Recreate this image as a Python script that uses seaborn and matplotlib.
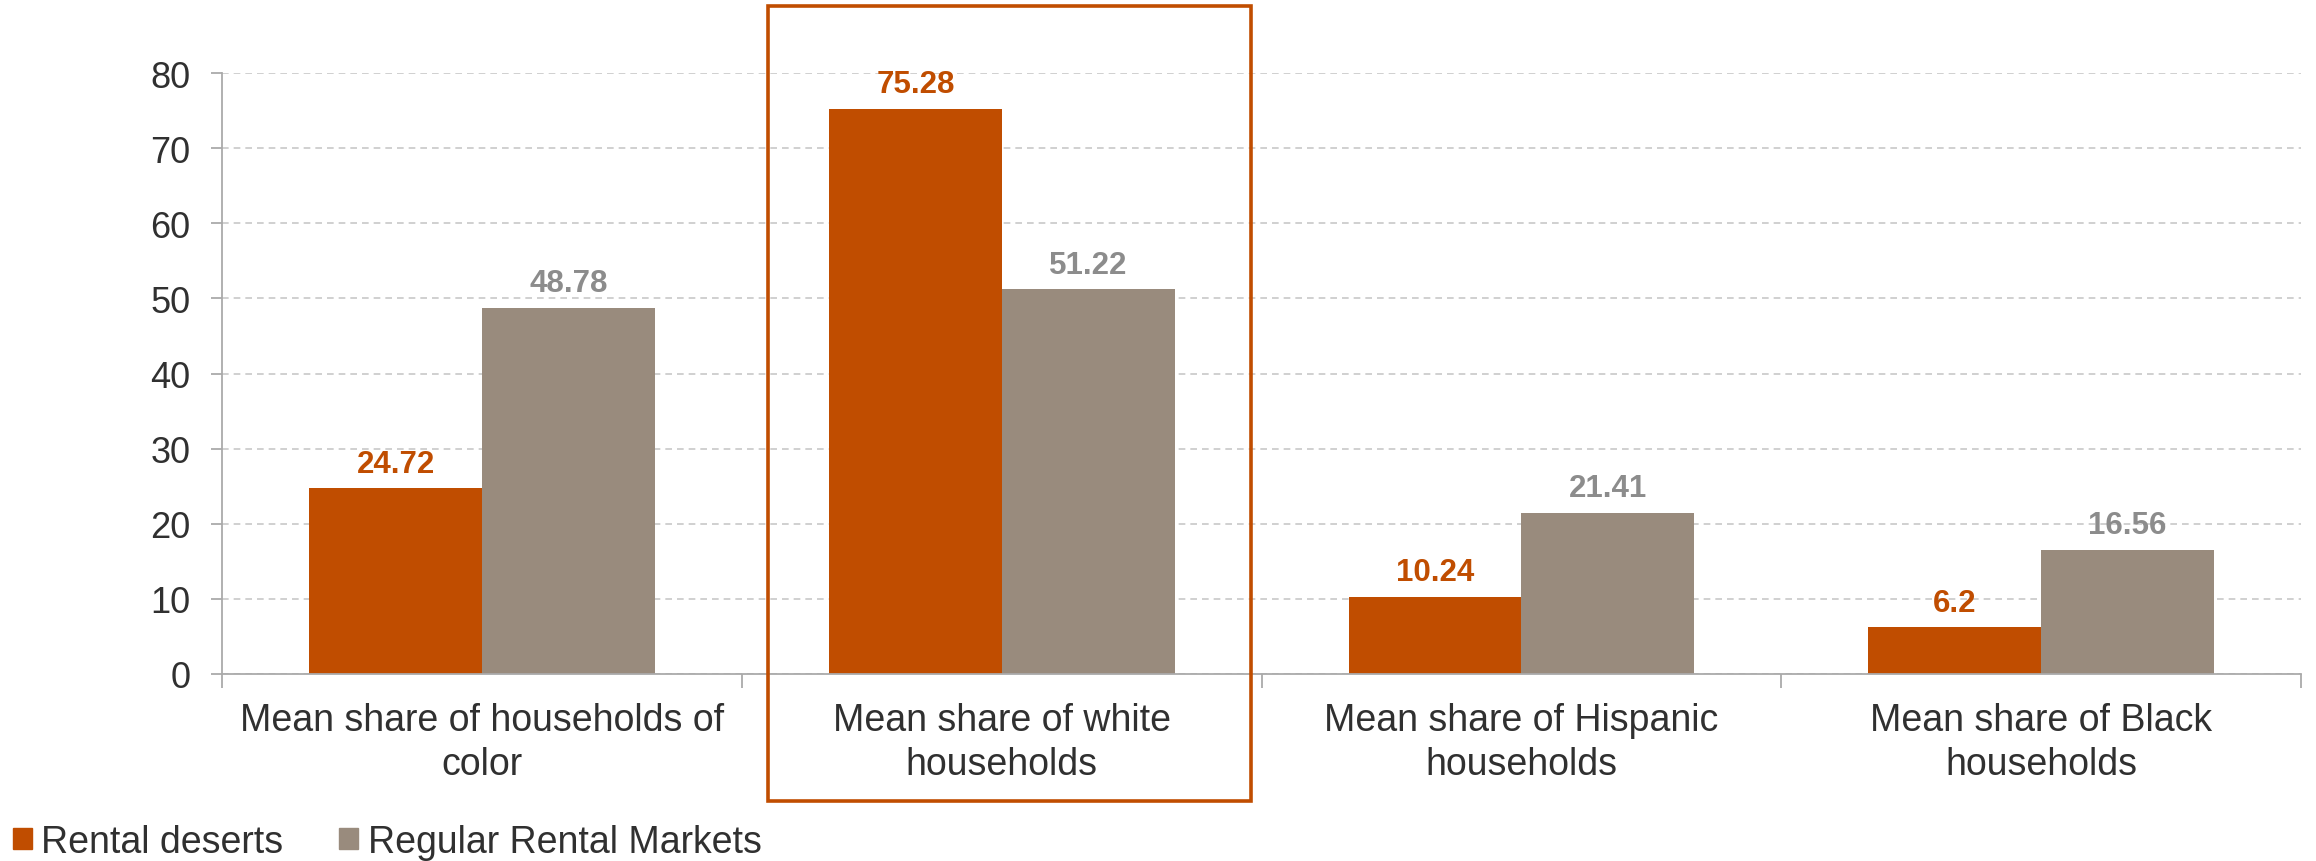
import matplotlib
matplotlib.use("Agg")
import matplotlib.pyplot as plt
import matplotlib.transforms as mtransforms
from matplotlib.patches import Rectangle
from matplotlib.ticker import FixedLocator
import seaborn as sns
import pandas as pd

categories = ["Mean share of households of\ncolor",
              "Mean share of white\nhouseholds",
              "Mean share of Hispanic\nhouseholds",
              "Mean share of Black\nhouseholds"]
series = ["Rental deserts", "Regular Rental Markets"]
rental_deserts = [24.72, 75.28, 10.24, 6.2]
regular_markets = [48.78, 51.22, 21.41, 16.56]
yticks = [0, 10, 20, 30, 40, 50, 60, 70, 80]

bar_colors = ["#C04D00", "#998B7D"]
label_colors = ["#C04D00", "#8C8C8C"]

df = pd.DataFrame({
    "Category": categories * 2,
    "Market": [series[0]] * 4 + [series[1]] * 4,
    "Value": rental_deserts + regular_markets,
})

sns.set_theme(style="white")
plt.rcParams["font.family"] = ["Liberation Sans", "DejaVu Sans"]

fig = plt.figure(figsize=(23.16, 8.62), dpi=100)
ax = fig.add_axes([0.096, 0.217, 0.8975, 0.697])

sns.barplot(data=df, x="Category", y="Value", hue="Market", order=categories,
            hue_order=series, palette=bar_colors, width=0.665, gap=0,
            saturation=1, linewidth=0, ax=ax, legend=False)

for cont, col in zip(ax.containers, label_colors):
    ax.bar_label(cont, fmt="%g", padding=7, color=col, fontweight="bold",
                 fontsize=22.5)

ax.set_ylim(0, 80)
ax.set_xlim(-0.5, 3.5)
ax.set_yticks(yticks)
ax.set_xlabel("")
ax.set_ylabel("")
ax.yaxis.grid(True, linestyle=(0, (4, 3)), color="#C8C8C8", linewidth=1.2)
ax.set_axisbelow(True)
for s in ["top", "right"]:
    ax.spines[s].set_visible(False)
for s in ["left", "bottom"]:
    ax.spines[s].set_color("#AAAAAA")
    ax.spines[s].set_linewidth(1.3)

ax.tick_params(axis="y", which="major", length=8, width=1.3, color="#AAAAAA",
               labelsize=26, labelcolor="#303030", pad=15, left=True)
ax.tick_params(axis="x", which="major", length=0, labelsize=27,
               labelcolor="#303030", pad=20)
ax.xaxis.set_minor_locator(FixedLocator([-0.5, 0.5, 1.5, 2.5, 3.5]))
ax.tick_params(axis="x", which="minor", length=10, width=1.3, color="#AAAAAA",
               bottom=True)
for lbl in ax.get_xticklabels():
    lbl.set_linespacing(1.3)

# highlight box round the white-households group
trans = mtransforms.blended_transform_factory(ax.transData, fig.transFigure)
box = Rectangle((1 - 0.45, 0.07), 0.93, 0.922, transform=trans, fill=False,
                edgecolor="#C04D00", linewidth=2.6, clip_on=False)
fig.add_artist(box)

handles = [Rectangle((0, 0), 1, 1, color=c) for c in bar_colors]
fig.legend(handles, series, loc="center left", bbox_to_anchor=(0.0056, 0.022),
           ncol=2, frameon=False, fontsize=27, handlelength=0.5,
           handleheight=0.5, handletextpad=0.25, columnspacing=1.5,
           borderpad=0, borderaxespad=0, labelcolor="#303030")

fig.savefig("out.png", dpi=100)
